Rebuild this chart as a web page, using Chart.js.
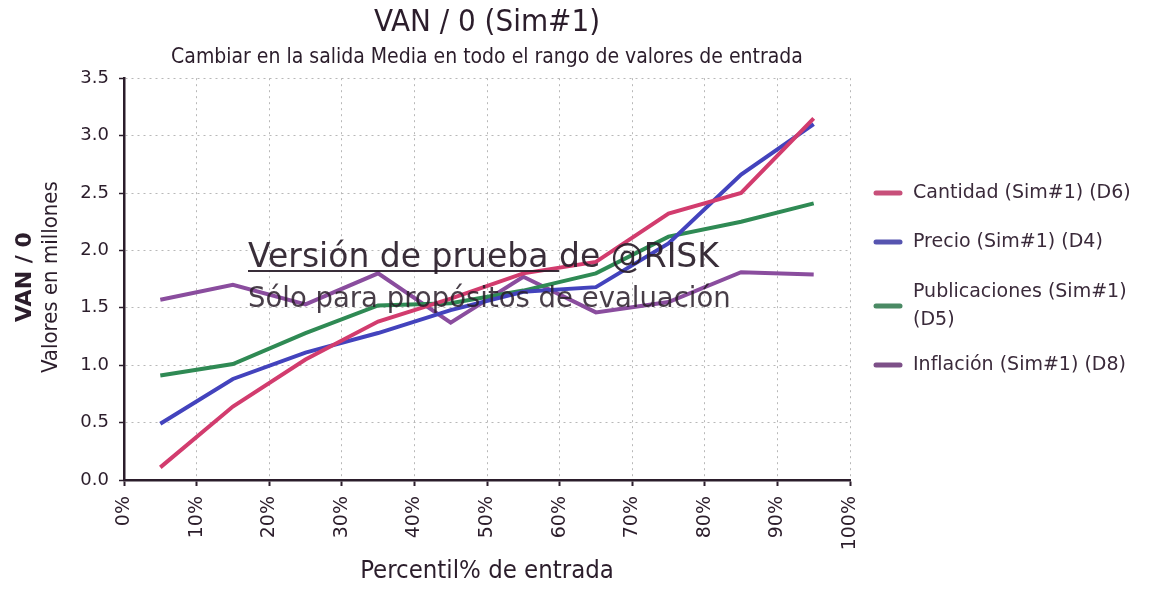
<!DOCTYPE html>
<html lang="es">
<head>
<meta charset="UTF-8">
<title>VAN / 0 (Sim#1)</title>
<script src="https://cdn.jsdelivr.net/npm/chart.js"></script>
<style>
  body { margin: 0; background: #fff; }
  #wrap { width: 1154px; height: 589px; }
</style>
</head>
<body>
<div id="wrap"><canvas id="vanChart" width="1154" height="589"></canvas></div>
<script>
// percentiles de entrada (eje x)
const percentiles = [5, 15, 25, 35, 45, 55, 65, 75, 85, 95];

const seriesNames = [
  "Cantidad (Sim#1) (D6)",
  "Precio (Sim#1) (D4)",
  "Publicaciones (Sim#1) (D5)",
  "Inflación (Sim#1) (D8)"
];

// valores en millones
const cantidad      = [0.11, 0.64, 1.05, 1.38, 1.58, 1.80, 1.90, 2.32, 2.50, 3.15];
const precio        = [0.49, 0.88, 1.11, 1.28, 1.48, 1.64, 1.68, 2.06, 2.66, 3.10];
const publicaciones = [0.91, 1.01, 1.28, 1.52, 1.54, 1.65, 1.80, 2.12, 2.25, 2.41];
const inflacion     = [1.57, 1.70, 1.53, 1.80, 1.37, 1.77, 1.46, 1.55, 1.81, 1.79];

const colors = ["#d23c6e", "#4343bd", "#2f8a54", "#8a4d9e"];
const legendColors = ["#c8507a", "#5654b0", "#4a8a64", "#7d5088"];

const ink = "#2b1d2b";
const gridGray = "#b8b8b8";

function toPoints(vals) {
  return vals.map((v, i) => ({ x: percentiles[i], y: v }));
}

// leyenda a la derecha (texto partido en lineas como en el original)
const sideLegend = {
  id: "sideLegend",
  afterDraw(chart) {
    const ctx = chart.ctx;
    const rows = [
      { lines: [seriesNames[0]], y: 193 },
      { lines: [seriesNames[1]], y: 242 },
      { lines: ["Publicaciones (Sim#1)", "(D5)"], y: 292 },
      { lines: [seriesNames[3]], y: 365 }
    ];
    ctx.save();
    ctx.font = "19px 'DejaVu Sans'";
    ctx.textBaseline = "middle";
    ctx.fillStyle = "#3a2a3a";
    rows.forEach((r, i) => {
      const lh = 28;
      const midY = r.y + (r.lines.length - 1) * lh / 2;
      ctx.strokeStyle = legendColors[i];
      ctx.lineWidth = 5;
      ctx.lineCap = "round";
      ctx.beginPath();
      ctx.moveTo(876, midY);
      ctx.lineTo(900, midY);
      ctx.stroke();
      r.lines.forEach((t, k) => ctx.fillText(t, 913, r.y + k * lh));
    });
    ctx.restore();
  }
};

// titulos del eje y (dos fuentes distintas)
const yTitles = {
  id: "yTitles",
  afterDraw(chart) {
    const ctx = chart.ctx;
    const area = chart.chartArea;
    const cy = (area.top + area.bottom) / 2;
    ctx.save();
    ctx.fillStyle = ink;
    ctx.textAlign = "center";
    ctx.textBaseline = "middle";
    ctx.translate(25, cy - 2);
    ctx.rotate(-Math.PI / 2);
    ctx.font = "bold 22px 'DejaVu Sans'";
    ctx.fillText("VAN / 0", 0, 0);
    ctx.font = "22px 'DejaVu Sans Condensed'";
    ctx.fillText("Valores en millones", 0, 26);
    ctx.restore();
  }
};

// marca de agua de la version de prueba
const watermark = {
  id: "watermark",
  afterDatasetsDraw(chart) {
    const ctx = chart.ctx;
    ctx.save();
    ctx.textBaseline = "alphabetic";
    ctx.fillStyle = "rgba(40,28,40,0.92)";
    ctx.font = "33px 'DejaVu Sans'";
    ctx.fillText("Versión de prueba de @RISK", 248, 267);
    const uw = ctx.measureText("Versión de prueba ").width;
    ctx.fillRect(248, 270, uw, 2);
    ctx.font = "27.5px 'DejaVu Sans'";
    ctx.fillStyle = "rgba(40,28,40,0.85)";
    ctx.fillText("Sólo para propósitos de evaluación", 248, 307);
    ctx.restore();
  }
};

const datasets = [cantidad, precio, publicaciones, inflacion].map((vals, i) => ({
  label: seriesNames[i],
  data: toPoints(vals),
  borderColor: colors[i],
  backgroundColor: colors[i],
  borderWidth: 4,
  pointRadius: 0,
  tension: 0,
  fill: false
}));

new Chart(document.getElementById("vanChart"), {
  type: "line",
  data: { datasets: datasets },
  options: {
    responsive: false,
    animation: false,
    layout: { padding: { left: 0, right: 304, top: 0, bottom: 0 } },
    plugins: {
      legend: { display: false },
      tooltip: { enabled: false },
      title: {
        display: true,
        text: "VAN / 0 (Sim#1)",
        fullSize: false,
        color: ink,
        font: { family: "'DejaVu Sans Condensed'", size: 31, weight: "normal", lineHeight: 1.2 },
        padding: { top: 4, bottom: 2 }
      },
      subtitle: {
        display: true,
        text: "Cambiar en la salida Media en todo el rango de valores de entrada",
        fullSize: false,
        color: ink,
        font: { family: "'DejaVu Sans Condensed'", size: 21, lineHeight: 1.2 },
        padding: { top: 1.8, bottom: 8 }
      }
    },
    scales: {
      x: {
        type: "linear",
        min: 0,
        max: 100,
        afterFit(scale) { scale.height = 109; },
        ticks: {
          stepSize: 10,
          minRotation: 90,
          maxRotation: 90,
          padding: 10,
          color: ink,
          font: { family: "'DejaVu Sans'", size: 19 },
          callback: v => v + "%"
        },
        grid: {
          color: gridGray,
          lineWidth: 1,
          drawTicks: true,
          tickLength: 6,
          tickColor: ink,
          tickWidth: 2,
          tickBorderDash: []
        },
        border: { display: true, color: ink, width: 2.5, dash: [2, 4] },
        title: {
          display: true,
          text: "Percentil% de entrada",
          color: ink,
          font: { family: "'DejaVu Sans Condensed'", size: 25.5 },
          padding: { top: 0, bottom: 2 }
        }
      },
      y: {
        min: 0,
        max: 3.5,
        afterFit(scale) { scale.width = 124; },
        ticks: {
          stepSize: 0.5,
          padding: 10,
          color: ink,
          font: { family: "'DejaVu Sans'", size: 18 },
          callback: v => v.toFixed(1)
        },
        grid: {
          color: gridGray,
          lineWidth: 1,
          drawTicks: true,
          tickLength: 5,
          tickColor: ink,
          tickWidth: 1.5,
          tickBorderDash: []
        },
        border: { display: true, color: ink, width: 2.5, dash: [2, 4] }
      }
    }
  },
  plugins: [watermark, yTitles, sideLegend]
});
</script>
</body>
</html>
